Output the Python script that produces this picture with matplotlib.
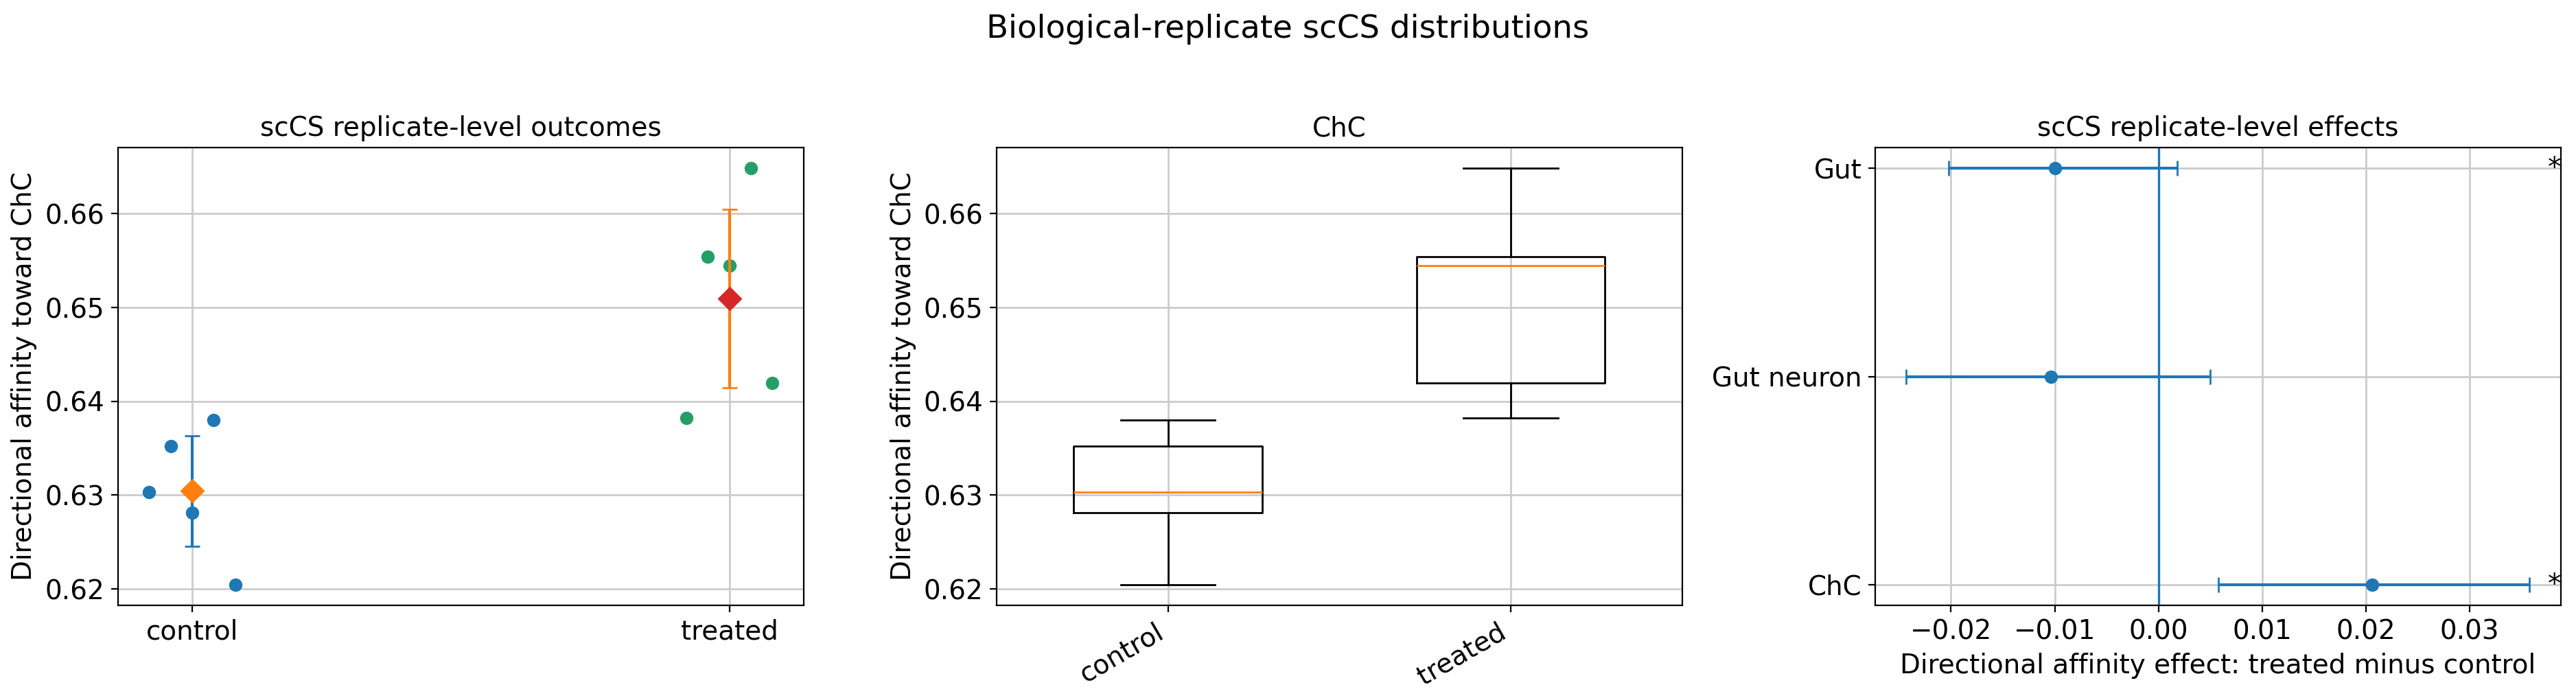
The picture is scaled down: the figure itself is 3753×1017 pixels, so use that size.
import matplotlib
matplotlib.use("Agg")
import matplotlib.pyplot as plt
import numpy as np

plt.rcParams['font.family'] = ['DejaVu Sans']
plt.rcParams['font.size'] = 14

# ---- data ----
groups = ["control", "treated"]
jitter = [-0.08, -0.04, 0.0, 0.04, 0.08]
control_vals = [0.63034, 0.63520, 0.62815, 0.63799, 0.62047]
treated_vals = [0.63826, 0.65544, 0.65446, 0.66483, 0.64192]
group_means = [0.63045, 0.65095]
group_err = [0.0059, 0.0095]

effect_labels = ["ChC", "Gut neuron", "Gut"]
effect_est = [0.0206, -0.0104, -0.0100]
effect_lo = [0.00576, -0.0243, -0.0202]
effect_hi = [0.03578, 0.0050, 0.0018]
effect_sig = [True, False, True]

ylabel = "Directional affinity toward ChC"
green = "#279e68"
grid_kw = dict(color="#cccccc", linewidth=1.0)

fig, axes = plt.subplots(1, 3, figsize=(18.765, 5.085), dpi=200)
fig.subplots_adjust(left=0.0458, right=0.9941, top=0.7886, bottom=0.1327, wspace=0.2817)

# ---- panel 1 ----
ax = axes[0]
ax.grid(True, **grid_kw)
ax.plot([0 + j for j in jitter], control_vals, 'o', color='C0', markersize=6, linestyle='none')
ax.errorbar(0, group_means[0], yerr=group_err[0], fmt='none', ecolor='C0', capsize=4, elinewidth=1.5)
ax.plot(0, group_means[0], 'D', color='C1', markersize=8)
ax.plot([1 + j for j in jitter], treated_vals, 'o', color=green, markersize=6, linestyle='none')
ax.errorbar(1, group_means[1], yerr=group_err[1], fmt='none', ecolor='C1', capsize=4, elinewidth=1.5)
ax.plot(1, group_means[1], 'D', color='C3', markersize=8)
ax.set_xticks([0, 1])
ax.set_xticklabels(groups)
ax.set_ylabel(ylabel)
ax.set_title("scCS replicate-level outcomes", fontsize=14)
ax.set_axisbelow(True)

# ---- panel 2 ----
ax = axes[1]
ax.grid(True, **grid_kw)
ax.boxplot([control_vals, treated_vals], widths=0.55)
ax.set_xticks([1, 2])
ax.set_xticklabels(groups, rotation=30, ha='right')
ax.set_ylabel(ylabel)
ax.set_title("ChC", fontsize=14)
ax.set_axisbelow(True)

# ---- panel 3 ----
ax = axes[2]
ax.grid(True, **grid_kw)
ypos = np.arange(len(effect_labels))
est = np.array(effect_est)
xerr = np.vstack([est - np.array(effect_lo), np.array(effect_hi) - est])
ax.errorbar(est, ypos, xerr=xerr, fmt='o', color='C0', capsize=4, markersize=6, elinewidth=1.5)
ax.axvline(0, color='C0', linewidth=1.2)
ax.set_yticks(ypos)
ax.set_yticklabels(effect_labels)
ax.set_xlabel("Directional affinity effect: treated minus control")
ax.set_title("scCS replicate-level effects", fontsize=14)
ax.set_axisbelow(True)
xr = ax.get_xlim()[1]
for y, s in zip(ypos, effect_sig):
    if s:
        ax.text(xr, y, "*", ha='right', va='center', fontsize=14)

fig.suptitle("Biological-replicate scCS distributions", fontsize=16.8, y=0.98)
fig.savefig("out.png", dpi=200)
